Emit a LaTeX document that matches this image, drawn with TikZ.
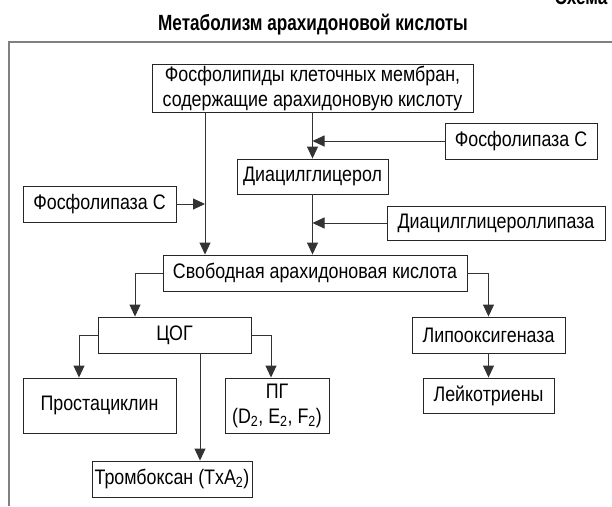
\documentclass[tikz,border=0pt]{standalone}
\usepackage{fontspec}
\setmainfont{Liberation Sans}[FakeStretch=0.85]
\newfontfamily\headfont{Liberation Sans}[FakeStretch=0.78]
\usetikzlibrary{arrows.meta,positioning}

\begin{document}
\begin{tikzpicture}[x=1pt, y=-1pt,
    box/.style={draw=black!85, line width=0.9pt, inner sep=0pt, align=center,
                font=\fontsize{21}{25}\selectfont},
    link/.style={draw=black!80, line width=0.9pt},
    arr/.style={link, -{Triangle[length=12pt,width=11pt]}},
    frameline/.style={draw=black!50, line width=2pt},
    heading/.style={font=\headfont\bfseries\fontsize{22}{26}\selectfont}]
  \useasboundingbox (0,0) rectangle (612,506);
  \clip (0,0) rectangle (612,506);
  %\draw[color=gray,step=10pt,help lines,opacity=0.3] (0,0) grid (612,506); %help grid
  % heading and frame
  \node[heading, anchor=base] (title) at (313,30) {Метаболизм арахидоновой кислоты};
  \node[heading, anchor=base west] (scheme) at (551,5) {Схема 1};
  \draw[frameline] (612,42) -- (9,42) -- (9,506);
  % lanes for the vertical links
  \coordinate (lane1) at (205,0);
  \coordinate (lane2) at (135,0);
  \coordinate (lane3) at (79,0);
  \coordinate (lane4) at (271,0);
  \coordinate (lane5) at (200,0);
  % boxes
  \node[box, minimum width=321, minimum height=48] (phl) at (312.5,88)
       {Фосфолипиды клеточных мембран,\\содержащие арахидоновую кислоту};
  \node[box, minimum width=152, minimum height=36] (plcR) at (521,141) {Фосфолипаза С};
  \node[box, minimum width=151, minimum height=35] (dag) at (312.5,176.5) {Диацилглицерол};
  \node[box, minimum width=153, minimum height=36] (plcL) at (99.5,204) {Фосфолипаза С};
  \node[box, minimum width=218, minimum height=34] (dagl) at (496,223) {Диацилглицероллипаза};
  \node[box, minimum width=304, minimum height=36] (freeaa) at (315,273) {Свободная арахидоновая кислота};
  \node[box, minimum width=153, minimum height=36] (cox) at (174.5,335) {ЦОГ};
  \node[box, minimum width=153, minimum height=36] (lox) at (488.5,335) {Липооксигеназа};
  \node[box, minimum width=153, minimum height=55] (pgi) at (99.5,405.5) {Простациклин};
  \node[box, minimum width=104, minimum height=55] (pg) at (277,405.5)
       {ПГ\\(D\textsubscript{2}, E\textsubscript{2}, F\textsubscript{2})};
  \node[box, minimum width=131, minimum height=35] (ltr) at (488.5,395.5) {Лейкотриены};
  \node[box, minimum width=160, minimum height=36] (txa) at (172,479) {Тромбоксан (TxA\textsubscript{2})};
  % lines...
  \draw[arr] (phl.south -| lane1) -- (freeaa.north -| lane1);
  \draw[arr] (phl.south -| dag.north) -- (dag.north);
  \draw[arr] (plcR.west) -- (plcR.west -| dag.north);
  \draw[arr] (plcL.east) -- (plcL.east -| lane1);
  \draw[arr] (dag.south) -- (dag.south |- freeaa.north);
  \draw[arr] (dagl.west) -- (dagl.west -| dag.south);
  \draw[arr] (freeaa.west) -| (cox.north -| lane2);
  \draw[arr] (freeaa.east) -| (lox.north);
  \draw[arr] (lox.south) -- (ltr.north);
  \draw[arr] (cox.west) -| (pgi.north -| lane3);
  \draw[arr] (cox.east) -| (pg.north -| lane4);
  \draw[arr] (cox.south -| lane5) -- (txa.north -| lane5);
\end{tikzpicture}
\end{document}
